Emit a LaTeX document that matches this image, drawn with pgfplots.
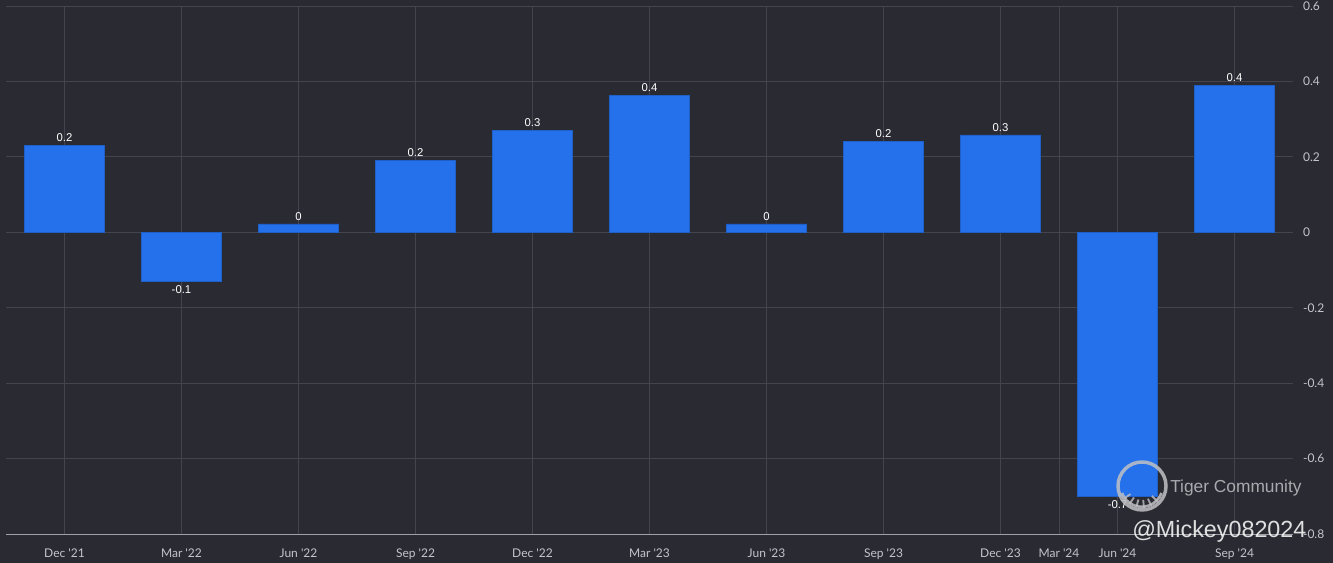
\documentclass[border=0pt]{standalone}
\usepackage{fontspec}
\setmainfont{Liberation Sans}
\newfontfamily\tickfont{Lato}
\usepackage{pgfplots}
\usepackage{pgfplotstable}
\pgfplotsset{compat=1.18}
\definecolor{bg}{HTML}{2A2A33}
\definecolor{barc}{HTML}{2571EB}
\definecolor{gridc}{HTML}{44444E}
\definecolor{tickc}{HTML}{C4C4CA}
\definecolor{axisc}{HTML}{A0A0A6}
\definecolor{wm}{HTML}{C0C0C4}
\pgfplotstableread{
x y lab
0 0.23 0.2
2 0.022 0
3 0.19 0.2
4 0.27 0.3
5 0.362 0.4
6 0.022 0
7 0.242 0.2
8 0.258 0.3
10 0.39 0.4
}\postable
\pgfplotstableread{
x y lab
1 -0.13 -0.1
9 -0.70 -0.7
}\negtable
\begin{document}
\begin{tikzpicture}
\useasboundingbox (0pt,0pt) rectangle (999.75pt,422.25pt);
\fill[bg] (0pt,0pt) rectangle (999.75pt,422.25pt);
\begin{axis}[
  at={(4.5pt,21.75pt)}, anchor=south west, scale only axis,
  width=965.25pt, height=396pt,
  xmin=-0.5, xmax=10.5, ymin=-0.8, ymax=0.6,
  axis line style={draw=none},
  tick style={draw=none},
  grid=major, major grid style={gridc, line width=0.75pt},
  xtick={0,1,2,3,4,5,6,7,8,8.5,9,10},
  xticklabels={Dec '21,Mar '22,Jun '22,Sep '22,Dec '22,Mar '23,Jun '23,Sep '23,Dec '23,Mar '24,Jun '24,Sep '24},
  ytick={-0.8,-0.6,-0.4,-0.2,0,0.2,0.4,0.6},
  yticklabels={-0.8,-0.6,-0.4,-0.2,0,0.2,0.4,0.6},
  yticklabel pos=right,
  yticklabel style={anchor=west, xshift=4pt, font=\tickfont\fontsize{9}{10}\selectfont, text=tickc},
  xticklabel style={yshift=-3pt, font=\tickfont\fontsize{9}{10}\selectfont, text=tickc},
  ybar, bar width=60pt, bar shift=0pt,
  nodes near coords,
  point meta=explicit symbolic,
  clip=false,
]
\addplot[fill=barc, draw=barc!85!black, line width=0.5pt,
  nodes near coords style={font=\fontsize{8.5}{9}\selectfont, text=white, anchor=south, inner sep=2.5pt}]
  table[x=x, y=y, meta=lab] {\postable};
\addplot[fill=barc, draw=barc!85!black, line width=0.5pt,
  nodes near coords style={font=\fontsize{8.5}{9}\selectfont, text=white, anchor=north, inner sep=3pt}]
  table[x=x, y=y, meta=lab] {\negtable};
\draw[axisc, line width=0.75pt] (rel axis cs:0,0) -- (rel axis cs:1,0);
\end{axis}
% watermark
\begin{scope}[x=0.75pt,y=0.75pt]
\draw[wm, opacity=0.85, line width=2.6pt] (1142,77) circle (24);
\draw[wm, opacity=0.85, line width=2pt] (1122,70) arc[start angle=200, end angle=340, radius=21];
\foreach \a in {215,235,255,275,295,315} {
  \draw[wm, opacity=0.8, line width=1.4pt] ({1142+14*cos(\a)},{77+14*sin(\a)}) -- ({1142+22*cos(\a)},{77+22*sin(\a)});
}
\node[anchor=west, inner sep=0, text=wm, opacity=0.85, font=\fontsize{13}{15}\selectfont] at (1170,75) {Tiger Community};
\node[anchor=base west, inner sep=0, text=white, opacity=0.85, font=\fontsize{17.5}{19}\selectfont] at (1132,25) {@Mickey082024};
\end{scope}
\end{tikzpicture}
\end{document}
